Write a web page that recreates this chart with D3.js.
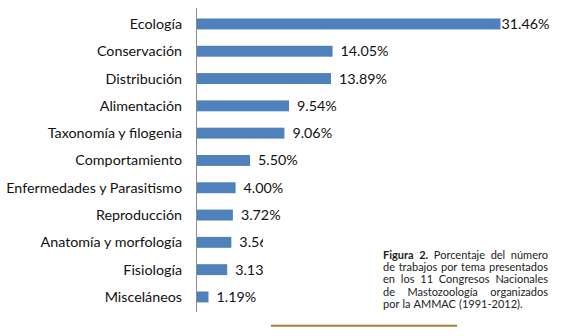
<!DOCTYPE html>
<html>
<head>
<meta charset="utf-8">
<script src="https://cdn.jsdelivr.net/npm/d3@7"></script>
<style>
  body { margin: 0; background: #fff; }
  svg { display: block; }
</style>
</head>
<body>
<main></main>
<script>
const topics = ['Ecología', 'Conservación', 'Distribución', 'Alimentación', 'Taxonomía y filogenia',
  'Comportamiento', 'Enfermedades y Parasitismo', 'Reproducción', 'Anatomía y morfología',
  'Fisiología', 'Misceláneos']
const percents = [31.46, 14.05, 13.89, 9.54, 9.06, 5.50, 4.00, 3.72, 3.56, 3.13, 1.19]

const captionLines = [
  ['Figura 2.', 'Porcentaje del número'],
  ['de trabajos por tema presentados'],
  ['en los 11 Congresos Nacionales'],
  ['de Mastozoología organizados'],
  ['por la AMMAC (1991-2012).']
]

const width = 564
const height = 336
const axisX = 197
const font = 'Lato, "Open Sans", sans-serif'

const svg = d3.select('main')
  .append('svg')
  .attr('width', width)
  .attr('height', height)

const xScale = d3.scaleLinear()
  .domain([0, 31.46])
  .range([axisX, 500.5])

const yScale = d3.scaleBand()
  .domain(topics)
  .range([10.3, 310.6])
  .paddingInner(0.6)
  .paddingOuter(0.3)

// bars
svg.selectAll('rect.bar')
  .data(percents)
  .enter()
  .append('rect')
  .attr('class', 'bar')
  .attr('x', xScale(0))
  .attr('y', (d, i) => yScale(topics[i]))
  .attr('width', d => xScale(d) - xScale(0))
  .attr('height', yScale.bandwidth())
  .attr('fill', '#4f81bd')

// category labels
svg.selectAll('text.cat')
  .data(topics)
  .enter()
  .append('text')
  .attr('class', 'cat')
  .attr('x', 182)
  .attr('y', d => yScale(d) + yScale.bandwidth() / 2)
  .attr('dy', '0.35em')
  .attr('text-anchor', 'end')
  .style('font-family', font)
  .style('font-size', '14.3px')
  .attr('fill', '#111')
  .text(d => d)

// value labels
svg.selectAll('text.val')
  .data(percents)
  .enter()
  .append('text')
  .attr('class', 'val')
  .attr('x', (d, i) => xScale(d) + (i === 0 ? 1 : 8))
  .attr('y', (d, i) => yScale(topics[i]) + yScale.bandwidth() / 2)
  .attr('dy', '0.35em')
  .style('font-family', font)
  .style('font-size', '14.3px')
  .attr('fill', '#111')
  .text(d => d.toFixed(2) + '%')

// axis line
svg.append('line')
  .attr('x1', axisX - 0.5).attr('x2', axisX - 0.5)
  .attr('y1', 8).attr('y2', 312)
  .attr('stroke', '#8c8c8c')
  .attr('stroke-width', 1)

// caption box covers part of the chart
svg.append('rect')
  .attr('x', 263).attr('y', 237)
  .attr('width', width - 263).attr('height', height - 237)
  .attr('fill', '#fff')

const cap = svg.append('g')
const capLeft = 383
const capRight = 548
const lineH = 12.3
captionLines.forEach((parts, li) => {
  const y = 255 + li * lineH
  let words = []
  parts.forEach((p, pi) => {
    p.split(' ').forEach(w => words.push({ w, bold: li === 0 && pi === 0 }))
  })
  const nodes = words.map(o => cap.append('text')
    .attr('y', y)
    .attr('dy', '0.35em')
    .style('font-family', font)
    .style('font-size', '11px')
    .style('font-weight', o.bold ? 'bold' : 'normal')
    .attr('fill', '#222')
    .text(o.w))
  const widths = nodes.map(n => n.node().getComputedTextLength())
  const total = d3.sum(widths)
  const last = li === captionLines.length - 1
  const gap = last ? 3 : (capRight - capLeft - total) / (nodes.length - 1)
  let x = capLeft
  nodes.forEach((n, i) => {
    n.attr('x', x)
    x += widths[i] + gap
  })
})

// gold rule under the caption
svg.append('line')
  .attr('x1', 271).attr('x2', 457)
  .attr('y1', 325.7).attr('y2', 325.7)
  .attr('stroke', '#a0803a')
  .attr('stroke-width', 2)
</script>
</body>
</html>
